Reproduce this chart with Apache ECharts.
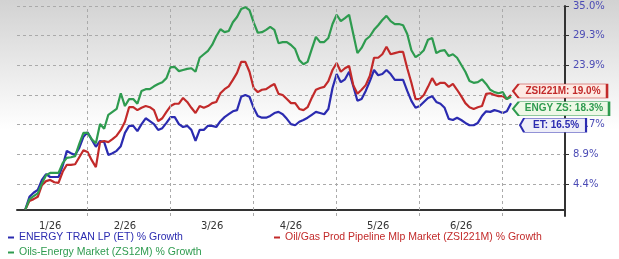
<!DOCTYPE html>
<html>
<head>
<meta charset="utf-8">
<script src="https://cdn.jsdelivr.net/npm/echarts@6/dist/echarts.min.js"></script>
<style>
  html, body { margin: 0; padding: 0; background: #fff; }
  #chart { width: 619px; height: 259px; }
</style>
</head>
<body>
<div id="chart"></div>
<script>
// trading days, Jan..early Jul 2026 (index only, labels below)
const dayCount = 133;
const monthLabels = ['1/26', '2/26', '3/26', '4/26', '5/26', '6/26'];
const monthLabelIdx = [8, 26, 47, 66, 87, 107];
const monthStartIdx = [17, 37, 57, 77, 97, 117];

const yTickValues = [4.4, 9.5, 14.6, 19.7, 24.8, 29.9, 35.0];
const yTickLabels = ['4.4%', '8.9%', '14.7%', '19.6%', '23.9%', '29.3%', '35.0%'];

const seriesNames = [
  'ENERGY TRAN LP (ET) % Growth',
  'Oil/Gas Prod Pipeline Mlp Market (ZSI221M) % Growth',
  'Oils-Energy Market (ZS12M) % Growth'
];
const tagTexts = ['ET: 16.5%', 'ZSI221M: 19.0%', 'ENGY ZS: 18.3%'];

// % growth
const etGrowth = [null, null,
  0, 2.2, 2.9, 3.4, 5.1, 6.1, 5.6, 5.6, 5.6, 7.5,
  10.1, 9.7, 9.4, 10.6, 12.5, 13.3, 12.0, 10.8, 11.8, 11.6,
  9.4, 9.7, 10.1, 10.9, 13.2, 14.4, 14.4, 13.5, 14.7, 15.7,
  15.2, 14.7, 13.7, 14.0, 14.9, 15.9, 15.9, 14.7, 14.2, 14.4,
  13.7, 11.8, 13.7, 13.7, 14.4, 14.4, 14.2, 15.2, 15.9, 16.4,
  16.9, 17.1, 19.4, 19.7, 19.4, 17.5, 16.1, 15.8, 15.8, 16.1,
  16.6, 16.8, 16.4, 15.6, 14.7, 14.5, 15.1, 15.4, 15.8, 16.3,
  16.8, 16.6, 16.4, 17.3, 20.9, 23.3, 21.9, 22.4, 23.7, 21.2,
  18.7, 19.0, 20.4, 22.1, 24.0, 23.1, 23.3, 24.0, 23.3, 22.3,
  22.3, 22.3, 20.4, 18.7, 17.5, 17.8, 18.5, 19.2, 19.5, 18.5,
  18.2, 17.5, 15.6, 15.4, 15.8, 15.4, 14.9, 14.5, 14.5, 14.9,
  16.1, 16.9, 16.8, 17.1, 16.9, 16.6, 16.9, 18.3];

const pipelineGrowth = [null, null,
  0, 1.5, 1.8, 2.2, 4.2, 4.9, 5.1, 4.7, 4.6, 6.5,
  7.7, 7.7, 7.8, 9.0, 10.2, 9.9, 8.5, 7.3, 11.6, 11.8,
  11.6, 12.1, 12.7, 13.7, 15.1, 17.6, 17.6, 17.1, 17.5, 17.8,
  17.6, 17.1, 15.2, 15.7, 16.8, 17.8, 18.2, 18.2, 19.2, 18.5,
  17.5, 16.6, 17.8, 17.5, 17.8, 18.3, 18.5, 20.0, 20.7, 21.2,
  22.3, 23.5, 25.4, 25.4, 23.7, 20.9, 20.2, 20.6, 20.7, 21.2,
  21.6, 19.9, 19.7, 19.0, 18.3, 18.3, 17.3, 17.1, 17.6, 19.2,
  20.6, 20.9, 21.1, 22.1, 24.0, 25.2, 23.7, 24.3, 24.7, 21.4,
  19.9, 20.6, 21.4, 23.0, 26.1, 26.1, 26.7, 28.0, 26.7, 26.9,
  27.1, 27.1, 24.3, 21.8, 19.0, 19.0, 19.7, 21.1, 22.6, 21.4,
  21.8, 21.8, 21.1, 21.6, 20.6, 19.5, 18.3, 17.6, 17.3, 17.6,
  17.8, 19.9, 20.0, 19.7, 19.5, 19.5, 19.0, 19.7];

const energyGrowth = [null, null,
  0, 1.8, 2.3, 2.8, 4.5, 5.9, 6.3, 6.3, 6.3, 8.0,
  8.9, 9.0, 9.2, 11.3, 13.2, 13.2, 12.1, 11.4, 14.7, 13.9,
  16.3, 16.8, 17.3, 20.0, 17.8, 19.0, 19.0, 18.2, 20.4, 20.7,
  20.7, 21.2, 21.6, 21.9, 22.6, 24.5, 24.5, 23.8, 24.0, 24.2,
  24.3, 23.7, 26.1, 26.7, 27.3, 28.3, 29.8, 31.0, 30.5, 30.7,
  32.2, 33.1, 34.5, 34.8, 34.3, 32.2, 30.4, 30.5, 30.9, 31.4,
  30.9, 28.6, 28.8, 28.8, 28.3, 27.6, 25.7, 25.0, 25.4, 27.6,
  29.7, 28.8, 28.8, 29.5, 31.9, 33.5, 32.4, 32.9, 33.5, 30.2,
  26.9, 27.8, 29.2, 29.8, 30.9, 31.7, 32.6, 33.3, 32.4, 31.9,
  31.9, 31.7, 30.2, 27.4, 26.2, 26.7, 27.4, 29.2, 29.5, 26.9,
  27.3, 27.4, 26.4, 26.7, 26.1, 24.9, 23.7, 22.1, 21.8, 21.9,
  22.4, 21.6, 20.6, 20.2, 20.0, 20.2, 19.0, 19.4];

const colors = ['#2b2bb0', '#c22a2a', '#2e9b4f'];
const tagFills = ['#eeeef8', '#fde9e3', '#eef8e6'];
const gridColor = '#aaaaaa';

const categories = [];
for (let i = 0; i < dayCount; i++) categories.push('d' + i);

const chart = echarts.init(document.getElementById('chart'));

// tag shaped marker at the last point of a series
function endTag(data, idx, w, dx, dy) {
  const last = data.length - 1;
  return {
    silent: true,
    symbol: 'path://M0,7 L6,0 L100,0 L100,14 L6,14 Z',
    symbolKeepAspect: false,
    symbolSize: [w, 14],
    symbolOffset: [dx, dy],
    itemStyle: { color: tagFills[idx], borderColor: colors[idx], borderWidth: 1 },
    label: {
      show: true,
      position: 'inside',
      offset: [3, 0],
      formatter: tagTexts[idx],
      color: colors[idx],
      fontFamily: 'Liberation Sans',
      fontWeight: 'bold',
      fontSize: 10
    },
    data: [{ coord: [categories[last], data[last]] }]
  };
}

// month boundary grid lines (vertical, dashed)
const monthLines = {
  silent: true,
  symbol: 'none',
  label: { show: false },
  lineStyle: { color: gridColor, type: [3, 3], width: 1 },
  data: monthStartIdx.map((i) => ({ xAxis: categories[i] }))
};

const allData = [etGrowth, pipelineGrowth, energyGrowth];
const tags = [
  endTag(etGrowth, 0, 66, 42, 22),
  endTag(pipelineGrowth, 1, 94, 49, -4),
  endTag(energyGrowth, 2, 96, 50, 12)
];

const legendText = { fontFamily: 'Liberation Sans', fontSize: 10.5 };
function legendAt(idx, left, top) {
  return {
    data: [seriesNames[idx]],
    left: left,
    top: top,
    padding: 0,
    icon: 'rect',
    itemWidth: 6,
    itemHeight: 2,
    selectedMode: false,
    textStyle: Object.assign({ color: colors[idx] }, legendText)
  };
}

chart.setOption({
  animation: false,
  backgroundColor: new echarts.graphic.LinearGradient(0, 0, 0, 1, [
    { offset: 0, color: '#d2d2d2' },
    { offset: 0.5, color: '#ffffff' },
    { offset: 1, color: '#ffffff' }
  ]),
  legend: [legendAt(0, 8, 232), legendAt(1, 274, 232), legendAt(2, 8, 247)],
  grid: { left: 17, right: 54, top: 6, bottom: 43 },
  xAxis: {
    type: 'category',
    data: categories,
    boundaryGap: false,
    axisLine: { lineStyle: { color: '#333', width: 2 } },
    axisTick: { show: false },
    axisLabel: {
      interval: (i) => monthLabelIdx.indexOf(i) >= 0,
      formatter: (v, i) => monthLabels[monthLabelIdx.indexOf(i)],
      color: '#333',
      fontFamily: 'DejaVu Sans',
      fontSize: 10,
      margin: 5
    },
    splitLine: { show: false }
  },
  yAxis: {
    type: 'value',
    position: 'right',
    min: -1.1,
    max: 35.0,
    axisLine: { show: true, lineStyle: { color: '#333', width: 2 } },
    axisTick: { show: true, length: 4, customValues: yTickValues, lineStyle: { color: '#333' } },
    axisLabel: {
      customValues: yTickValues,
      margin: 8,
      color: '#4b4bb5',
      fontFamily: 'DejaVu Sans',
      fontSize: 10,
      formatter: (v) => {
        for (let k = 0; k < yTickValues.length; k++) {
          if (Math.abs(yTickValues[k] - v) < 0.01) return yTickLabels[k];
        }
        return '';
      }
    },
    splitLine: { show: true, lineStyle: { color: gridColor, type: [3, 3], width: 1 } }
  },
  series: allData.map((d, idx) => ({
    name: seriesNames[idx],
    type: 'line',
    data: d,
    showSymbol: false,
    symbol: 'none',
    color: colors[idx],
    lineStyle: { width: 2.2, color: colors[idx] },
    emphasis: { disabled: true },
    markPoint: tags[idx],
    markLine: idx === 0 ? monthLines : undefined,
    z: idx === 0 ? 2 : 3
  }))
});
</script>
</body>
</html>
